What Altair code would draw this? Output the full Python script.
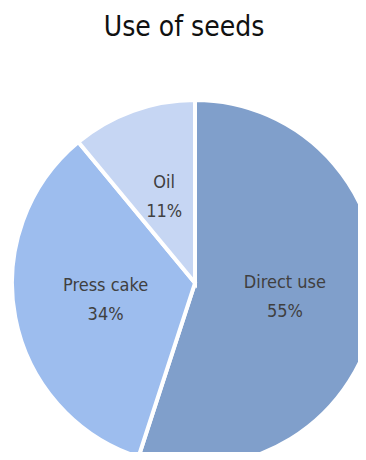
import altair as alt
import pandas as pd

categories = ["Direct use", "Press cake", "Oil"]
values = [55, 34, 11]
pct_labels = ["55%", "34%", "11%"]
colors = ["#809fcb", "#9dbdee", "#c6d6f3"]
title_text = ["Use of seeds"]

FONT = "DejaVu Sans Condensed"
CX, CY = 187, 275

df = pd.DataFrame({
    "use": categories,
    "share": values,
    "pct": pct_labels,
    "order": list(range(len(categories))),
})

base = alt.Chart(df).encode(
    theta=alt.Theta("share:Q", stack=True),
    order=alt.Order("order:Q"),
    x=alt.value(CX),
    y=alt.value(CY),
)

arcs = base.mark_arc(outerRadius=183, stroke="white", strokeWidth=4).encode(
    color=alt.Color("use:N", scale=alt.Scale(domain=categories, range=colors), legend=None)
)

names = base.mark_text(radius=91, dy=-14, font=FONT, fontSize=18, color="#404040",
                       align="center", baseline="middle").encode(text="use:N")
pcts = base.mark_text(radius=91, dy=15, font=FONT, fontSize=18, color="#404040",
                      align="center", baseline="middle").encode(text="pct:N")

title = alt.Chart(pd.DataFrame({"t": title_text})).mark_text(
    font=FONT, fontSize=28, color="#111111", align="center", baseline="alphabetic"
).encode(text="t:N", x=alt.value(176), y=alt.value(28))

chart = alt.layer(arcs, names, pcts, title).properties(
    width=350, height=444,
    autosize=alt.AutoSizeParams(type="none"),
    padding={"left": 0, "right": 0, "top": 0, "bottom": 0},
).configure_view(stroke=None)

chart.save("out.html", embed_options={"renderer": "svg", "actions": False})
